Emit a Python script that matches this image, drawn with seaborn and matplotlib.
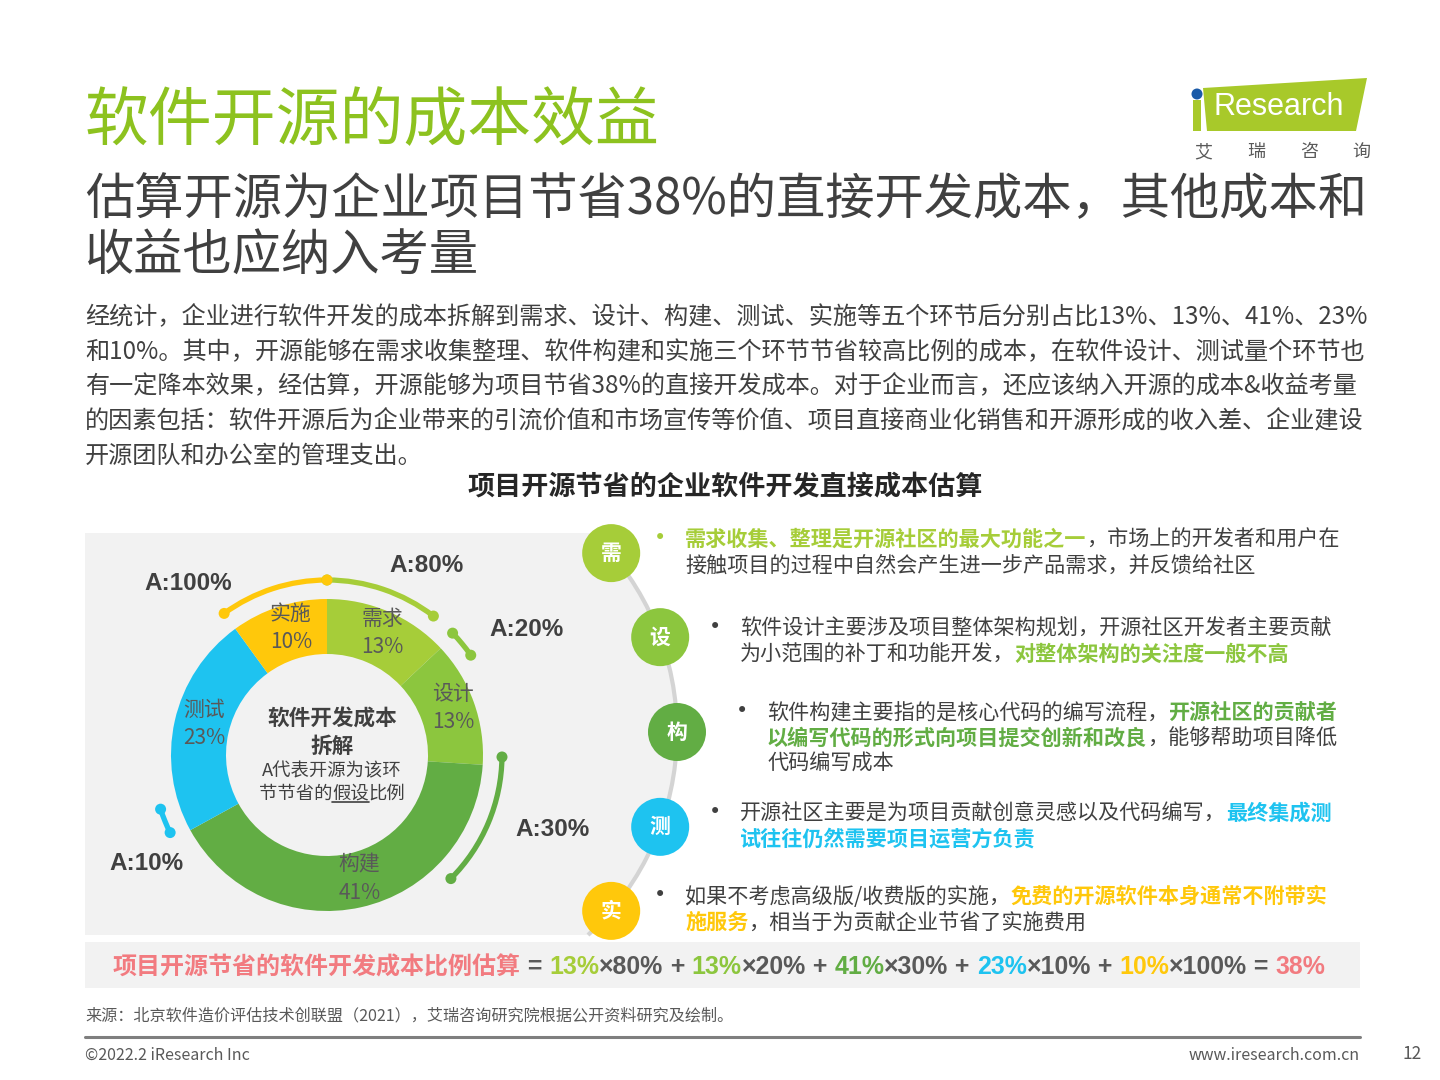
import numpy as np
import matplotlib
matplotlib.use("Agg")
import matplotlib.pyplot as plt
import seaborn as sns
from matplotlib.patches import Circle, Polygon, Arc, Rectangle

# data
stages = ["需求", "设计", "构建", "测试", "实施"]
stage_short = ["需", "设", "构", "测", "实"]
shares = [13, 13, 41, 23, 10]          # cost share %
savings = [80, 20, 30, 10, 100]        # assumed saving ratio A %
total_saving = 38

title = "软件开源的成本效益"
subtitle = ["估算开源为企业项目节省38%的直接开发成本，其他成本和", "收益也应纳入考量"]
body = [
    "经统计，企业进行软件开发的成本拆解到需求、设计、构建、测试、实施等五个环节后分别占比13%、13%、41%、23%",
    "和10%。其中，开源能够在需求收集整理、软件构建和实施三个环节节省较高比例的成本，在软件设计、测试量个环节也",
    "有一定降本效果，经估算，开源能够为项目节省38%的直接开发成本。对于企业而言，还应该纳入开源的成本&收益考量",
    "的因素包括：软件开源后为企业带来的引流价值和市场宣传等价值、项目直接商业化销售和开源形成的收入差、企业建设",
    "开源团队和办公室的管理支出。",
]
chart_title = "项目开源节省的企业软件开发直接成本估算"
# bullet texts: list of lines, each line a list of (text, highlighted)
notes = [
    [[("需求收集、整理是开源社区的最大功能之一", True), ("，市场上的开发者和用户在", False)],
     [("接触项目的过程中自然会产生进一步产品需求，并反馈给社区", False)]],
    [[("软件设计主要涉及项目整体架构规划，开源社区开发者主要贡献", False)],
     [("为小范围的补丁和功能开发，", False), ("对整体架构的关注度一般不高", True)]],
    [[("软件构建主要指的是核心代码的编写流程，", False), ("开源社区的贡献者", True)],
     [("以编写代码的形式向项目提交创新和改良", True), ("，能够帮助项目降低", False)],
     [("代码编写成本", False)]],
    [[("开源社区主要是为项目贡献创意灵感以及代码编写，", False), ("最终集成测", True)],
     [("试往往仍然需要项目运营方负责", True)]],
    [[("如果不考虑高级版/收费版的实施，", False), ("免费的开源软件本身通常不附带实", True)],
     [("施服务", True), ("，相当于为贡献企业节省了实施费用", False)]],
]
formula_label = "项目开源节省的软件开发成本比例估算"
source = "来源：北京软件造价评估技术创联盟（2021），艾瑞咨询研究院根据公开资料研究及绘制。"

# style
colors = ["#a6cd39", "#8cc63e", "#62ad44", "#1ec3f0", "#ffc80b"]
GREEN = "#8dc21f"
DARK = "#404040"
GRAY = "#595959"
PINK = "#f27b80"
CJK = ["Noto Sans CJK SC", "DejaVu Sans"]
LAT = ["Liberation Sans", "Noto Sans CJK SC"]

sns.set_theme(style="white")
plt.rcParams["font.family"] = CJK

W, H = 1440, 1080
fig = plt.figure(figsize=(14.4, 10.8), dpi=100)
ax = fig.add_axes([0, 0, 1, 1])
renderer = fig.canvas.get_renderer()


def Y(y):
    return H - y


def px(size):
    return size * 100 / 72


def adv(s, size, weight="normal", family=None):
    kw = dict(fontsize=size, fontweight=weight)
    if family:
        kw["family"] = family
    t1 = ax.text(0, 0, s + "国", **kw)
    t2 = ax.text(0, 0, "国", **kw)
    w = t1.get_window_extent(renderer).width - t2.get_window_extent(renderer).width
    t1.remove()
    t2.remove()
    return w


def runs(x, yc, parts, size):
    # parts: (text, colour, weight, family or None, size)
    yb = yc + 0.38 * px(size)
    out = []
    for p in parts:
        s, c, w = p[:3]
        fam = p[3] if len(p) > 3 else None
        sz = p[4] if len(p) > 4 else size
        kw = dict(fontsize=sz, fontweight=w, color=c, va="baseline", ha="left")
        if fam:
            kw["family"] = fam
        ax.text(x, Y(yb), s, **kw)
        out.append(x)
        x += adv(s, sz, w, fam)
    out.append(x)
    return out


# ---- header ----
ax.text(85, Y(122), title, fontsize=46, color=GREEN, va="center", ha="left")
for i, line in enumerate(subtitle):
    ax.text(85, Y(200 + 57 * i), line, fontsize=35.5, color=DARK, va="center", ha="left")
for i, line in enumerate(body):
    ax.text(85, Y(317 + 34.8 * i), line, fontsize=17.4, color=DARK, va="center", ha="left")
ax.text(725, Y(486), chart_title, fontsize=19.5, fontweight="bold", color="#262626",
        va="center", ha="center")

# logo
ax.add_patch(Polygon([(1203, Y(88)), (1367, Y(78)), (1356, Y(131)), (1207, Y(131))],
                     closed=True, color="#a8c92a", lw=0))
ax.add_patch(Circle((1197, Y(94)), 5.5, color="#1a5aa8", lw=0))
ax.add_patch(Rectangle((1193, Y(131)), 8, 31, color="#a8c92a", lw=0))
ax.text(1214, Y(107), "Research", fontsize=22, color="white", family="Liberation Sans",
        va="center", ha="left")
for x, ch in zip([1203, 1256, 1309, 1361], "艾瑞咨询"):
    ax.text(x, Y(152), ch, fontsize=13, color=GRAY, va="center", ha="center")

# ---- gray panel with arc ----
pc = (401, 732)
pr = 276
a_top = np.degrees(np.arcsin((pc[1] - 533) / pr))
a_bot = np.degrees(np.arcsin((935 - pc[1]) / pr))
ang = np.radians(np.linspace(a_top, -a_bot, 80))
arc_pts = [(pc[0] + pr * np.cos(a), Y(pc[1] - pr * np.sin(a))) for a in ang]
panel = [(85, Y(533))] + arc_pts + [(85, Y(935))]
ax.add_patch(Polygon(panel, closed=True, color="#f2f2f2", lw=0, zorder=0))
ax.add_patch(Arc((pc[0], Y(pc[1])), 2 * pr, 2 * pr, theta1=-a_bot, theta2=a_top,
                 color="#d4d4d4", lw=3, zorder=1))

# ---- donut ----
dc = (327, 755)
r_out, r_in = 156, 101
ax.pie(shares, colors=colors, startangle=90, counterclock=False, radius=r_out,
       center=(dc[0], Y(dc[1])), wedgeprops=dict(width=r_out - r_in, linewidth=0))
ax.set_xlim(0, W)
ax.set_ylim(0, H)
ax.set_aspect("auto")
ax.axis("off")

starts = 90 - np.concatenate([[0], np.cumsum(shares)[:-1]]) * 3.6
spans = np.array(shares) * 3.6
lab_r = 130
for name, sh, st, sp in zip(stages, shares, starts, spans):
    mid = np.radians(st - sp / 2)
    lx = dc[0] + 4 + lab_r * np.cos(mid)
    ly = dc[1] - 3 - lab_r * np.sin(mid)
    ax.text(lx, Y(ly - 14), name, fontsize=15, color=GRAY, va="center", ha="center")
    ax.text(lx, Y(ly + 14), f"{sh}%", fontsize=15, color=GRAY, va="center", ha="center")

# saving arcs (A) around each segment
arc_pos = [0.4, 0.08, 0.13, 0.08, 0.5]   # centre of arc inside its segment
a_label_xy = [(427, 565), (527, 630), (553, 829), (146, 863), (188, 584)]
arc_r = 175
for i in range(len(stages)):
    span = shares[i] * savings[i] / 100 * 3.6
    c = starts[i] - arc_pos[i] * spans[i]
    a1, a2 = c - span / 2, c + span / 2
    ax.add_patch(Arc((dc[0], Y(dc[1])), 2 * arc_r, 2 * arc_r, theta1=a1, theta2=a2,
                     color=colors[i], lw=3.8, zorder=3))
    for a in (a1, a2):
        ax.add_patch(Circle((dc[0] + arc_r * np.cos(np.radians(a)),
                             Y(dc[1] - arc_r * np.sin(np.radians(a)))), 5.5,
                            color=colors[i], lw=0, zorder=4))
    lx, ly = a_label_xy[i]
    ax.text(lx, Y(ly), f"A:{savings[i]}%", fontsize=17.5, fontweight="bold", color=DARK,
            family="Liberation Sans", va="center", ha="center")

# donut centre text
ax.text(332, Y(719), "软件开发成本", fontsize=15.6, fontweight="bold", color=DARK,
        va="center", ha="center")
ax.text(332, Y(746), "拆解", fontsize=15.6, fontweight="bold", color=DARK,
        va="center", ha="center")
ax.text(332, Y(771), "A代表开源为该环", fontsize=13.2, color=DARK, va="center", ha="center")
parts = [("节节省的", DARK, "normal"), ("假设", DARK, "normal"), ("比例", DARK, "normal")]
tot = sum(adv(s, 13.2) for s, _, _ in parts)
xs = runs(332 - tot / 2, 792, parts, 13.2)
ax.plot([xs[1], xs[2]], [Y(802), Y(802)], color=DARK, lw=1.2)

# ---- stage circles and notes ----
circ_ang = [40.4, 20.1, 0, -20.1, -40.4]
bullet_x = [660, 715, 742, 715, 660]
line_y0 = [538, 627, 711, 812, 895]
for i, a in enumerate(circ_ang):
    cx = pc[0] + pr * np.cos(np.radians(a))
    cy = pc[1] - pr * np.sin(np.radians(a))
    ax.add_patch(Circle((cx, Y(cy)), 29, color=colors[i], lw=0, zorder=5))
    ax.text(cx, Y(cy), stage_short[i], fontsize=15, fontweight="bold", color="white",
            va="center", ha="center", zorder=6)
    ax.text(bullet_x[i], Y(line_y0[i]), "•", fontsize=15, family="DejaVu Sans",
            color=colors[0] if i == 0 else DARK, va="center", ha="center")
    for j, line in enumerate(notes[i]):
        parts = [(s, colors[i] if hl else DARK, "bold" if hl else "normal") for s, hl in line]
        runs(bullet_x[i] + 25, line_y0[i] + 25.5 * j, parts, 15.2)

# ---- formula bar ----
ax.add_patch(Rectangle((85, Y(988)), 1275, 46, color="#f2f2f2", lw=0))
num_parts = [(" = ", GRAY, "bold")]
for i in range(len(stages)):
    num_parts.append((f"{shares[i]}%", colors[i], "bold"))
    num_parts.append((f"×{savings[i]}%", GRAY, "bold"))
    num_parts.append((" + " if i < len(stages) - 1 else " = ", GRAY, "bold"))
num_parts.append((f"{total_saving}%", PINK, "bold"))
lab_size = 17.3
lab_w = adv(formula_label, lab_size, "bold")
num_w = sum(adv(s, lab_size, w, LAT) for s, _, w in num_parts)
num_size = lab_size * (1212 - lab_w) / num_w
parts = [(formula_label, PINK, "bold")] + [(s, c, w, LAT, num_size) for s, c, w in num_parts]
runs(113, 965, parts, lab_size)

# ---- footer ----
ax.text(85, Y(1016), source, fontsize=11.6, color=GRAY, va="center", ha="left")
ax.plot([85, 1360], [Y(1037), Y(1037)], color="#7f7f7f", lw=2.2)
ax.text(85, Y(1055), "©2022.2 iResearch Inc", fontsize=11.5, color=GRAY, va="center", ha="left")
ax.text(1360, Y(1055), "www.iresearch.com.cn", fontsize=11.5, color=GRAY, va="center", ha="right")
ax.text(1412, Y(1054), "12", fontsize=12.5, color=GRAY, va="center", ha="center")

fig.savefig("out.png", dpi=100)
